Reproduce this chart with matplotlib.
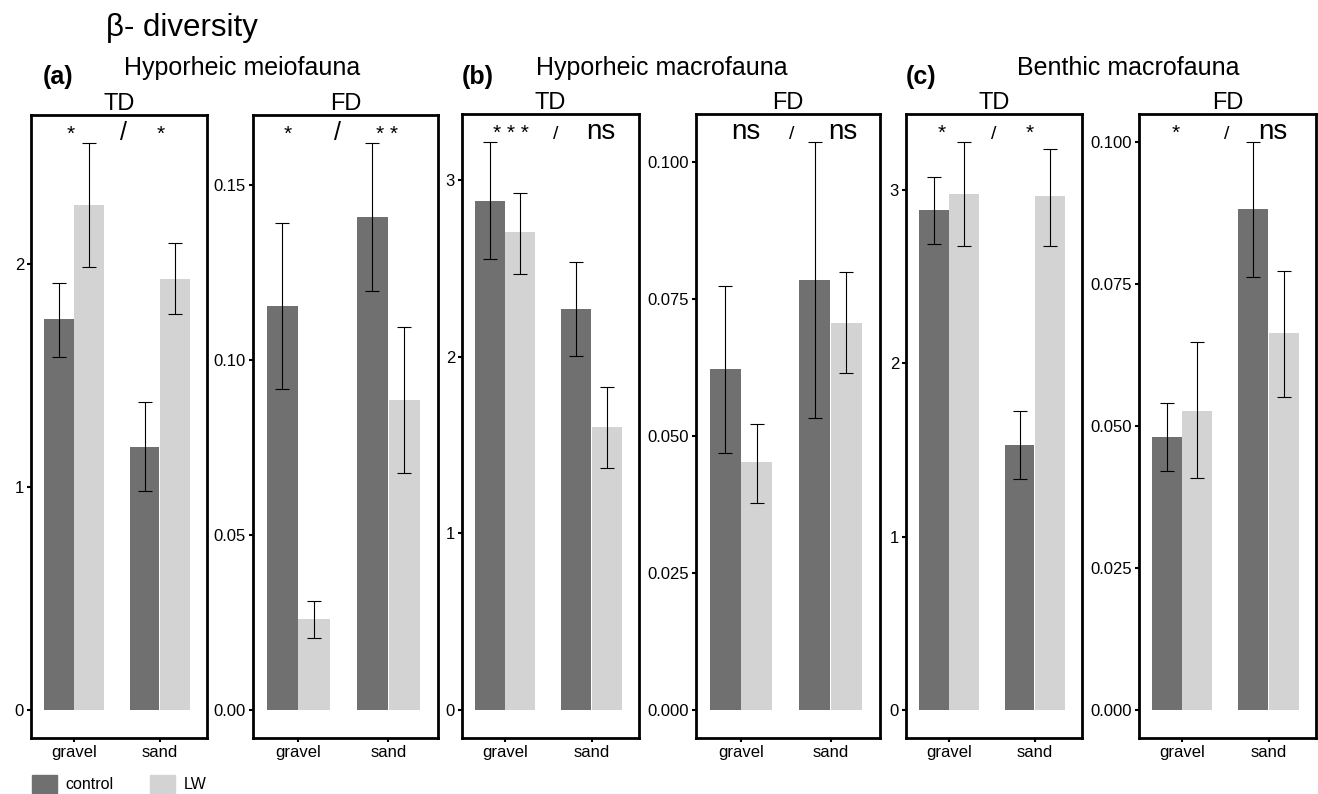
import matplotlib.pyplot as plt
from matplotlib.patches import Patch
import numpy as np

plt.rcParams['font.family'] = ['Liberation Sans', 'DejaVu Sans']

habitats = ['gravel', 'sand']
metrics = ['TD', 'FD', 'TD', 'FD', 'TD', 'FD']

# control: mean, lower, upper  (gravel, sand)
ctrl_mean = [[1.75, 1.18], [0.1154, 0.1409], [2.886, 2.27],
             [0.0622, 0.0784], [2.884, 1.53], [0.0481, 0.0882]]
ctrl_lo = [[1.58, 0.98], [0.0917, 0.1197], [2.557, 2.005],
           [0.0469, 0.0533], [2.69, 1.333], [0.042, 0.0763]]
ctrl_hi = [[1.915, 1.38], [0.1391, 0.162], [3.216, 2.54],
           [0.0773, 0.1035], [3.075, 1.727], [0.0541, 0.100]]

# large wood
lw_mean = [[2.265, 1.933], [0.026, 0.0886], [2.705, 1.60],
           [0.0451, 0.0706], [2.98, 2.965], [0.0527, 0.0664]]
lw_lo = [[1.987, 1.776], [0.0206, 0.0677], [2.47, 1.37],
         [0.0377, 0.0614], [2.68, 2.68], [0.0409, 0.0551]]
lw_hi = [[2.54, 2.094], [0.0311, 0.1094], [2.93, 1.83],
         [0.0522, 0.0799], [3.277, 3.24], [0.0648, 0.0774]]

yticks = [[0, 1, 2], [0, 0.05, 0.10, 0.15], [0, 1, 2, 3],
          [0, 0.025, 0.05, 0.075, 0.1], [0, 1, 2, 3],
          [0, 0.025, 0.05, 0.075, 0.1]]
yfmt = ['{:.0f}', '{:.2f}', '{:.0f}', '{:.3f}', '{:.0f}', '{:.3f}']

signif = [['*', '/', '*'], ['*', '/', '* *'], ['* * *', '/', 'ns'],
          ['ns', '/', 'ns'], ['*', '/', '*'], ['*', '/', 'ns']]
signif_x = [[0.96, 1.58, 2.01], [0.88, 1.44, 1.98], [1.07, 1.59, 2.11],
            [1.05, 1.57, 2.14], [0.92, 1.52, 1.94], [0.92, 1.52, 2.05]]

groups = ['Hyporheic meiofauna', 'Hyporheic macrofauna', 'Benthic macrofauna']
letters = ['(a)', '(b)', '(c)']

ctrl_col = '#707070'
lw_col = '#d3d3d3'

W, H = 1318, 794
fig = plt.figure(figsize=(W / 100, H / 100), dpi=100)

# panel frames in pixels: left, right, top, bottom
frames = [(31, 207, 115, 738), (253, 438, 115, 738), (462, 639, 114, 738),
          (696, 880, 114, 738), (906, 1082, 114, 738), (1139, 1316, 114, 738)]

def fx(x):
    return x / W

def fy(y):
    return 1 - y / H

x = np.arange(1, len(habitats) + 1)
off = 0.176
w = 0.345

for i, (l, r, t, b) in enumerate(frames):
    ax = fig.add_axes([fx(l), fy(b), (r - l) / W, (b - t) / H])
    cm, lm = np.array(ctrl_mean[i]), np.array(lw_mean[i])
    ax.bar(x - off, cm, width=w, color=ctrl_col)
    ax.bar(x + off, lm, width=w, color=lw_col)
    ax.errorbar(x - off, cm, yerr=[cm - np.array(ctrl_lo[i]), np.array(ctrl_hi[i]) - cm],
                fmt='none', ecolor='black', elinewidth=0.8, capsize=5, capthick=0.8)
    ax.errorbar(x + off, lm, yerr=[lm - np.array(lw_lo[i]), np.array(lw_hi[i]) - lm],
                fmt='none', ecolor='black', elinewidth=0.8, capsize=5, capthick=0.8)
    top = max(max(ctrl_hi[i]), max(lw_hi[i]))
    ax.set_ylim(-0.05 * top, 1.05 * top)
    ax.set_xlim(0.5, 2.55)
    ax.set_xticks(x)
    ax.set_xticklabels(habitats)
    ax.set_yticks(yticks[i])
    ax.set_yticklabels([yfmt[i].format(v) for v in yticks[i]])
    ax.tick_params(axis='both', length=3, width=1.5, labelsize=12, pad=2)
    for s in ax.spines.values():
        s.set_linewidth(2)
    ax.set_title(metrics[i], fontsize=17, pad=3)
    for lab, sx in zip(signif[i], signif_x[i]):
        if lab == '/':
            fs = 18 if i < 2 else 14
        elif lab == 'ns':
            fs = 20
        else:
            fs = 15
        ax.text(sx, 0.96, lab, transform=ax.get_xaxis_transform(),
                ha='center', va='baseline', fontsize=fs)

# group headings
group_cx = [242, 662, 1128]
letter_cx = [58, 478, 921]
for g, lt, gx, lx in zip(groups, letters, group_cx, letter_cx):
    fig.text(fx(gx), fy(75), g, ha='center', va='baseline', fontsize=18)
    fig.text(fx(lx), fy(84), lt, ha='center', va='baseline', fontsize=18,
             fontweight='bold')

fig.text(fx(106), fy(36), 'β- diversity', ha='left', va='baseline', fontsize=22.5)

handles = [Patch(color=ctrl_col, label='control'), Patch(color=lw_col, label='LW')]
fig.legend(handles=handles, loc='lower left', bbox_to_anchor=(fx(32), fy(793)),
           ncol=2, frameon=False, fontsize=11.5, handlelength=1.56,
           handleheight=1.375, handletextpad=0.56, columnspacing=2.25,
           borderpad=0, borderaxespad=0)

fig.savefig('out.png', dpi=100)
